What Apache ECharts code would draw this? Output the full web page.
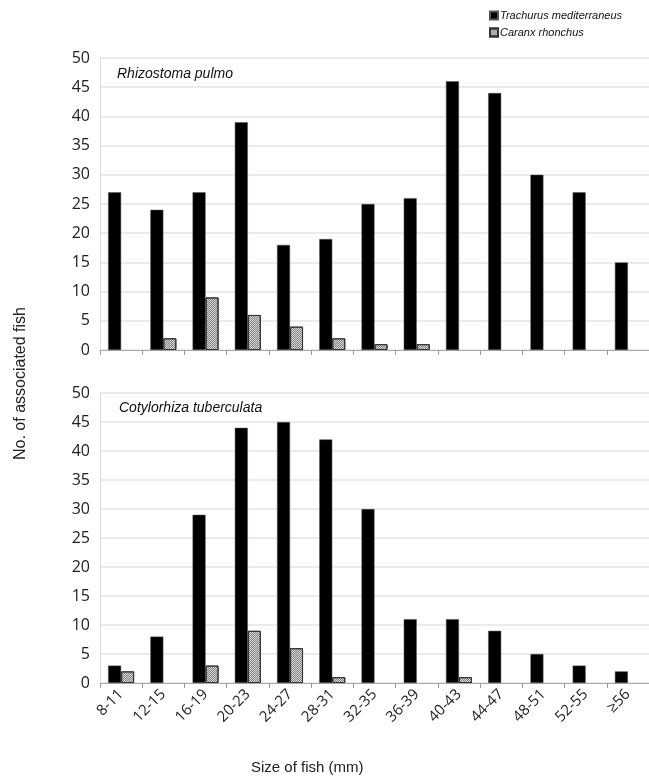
<!DOCTYPE html>
<html>
<head>
<meta charset="utf-8">
<script src="https://cdn.jsdelivr.net/npm/echarts@6/dist/echarts.min.js"></script>
<style>html,body{margin:0;padding:0;background:#fff}#c{width:649px;height:781px}</style>
</head>
<body>
<div id="c"></div>
<script>
const categories = ['8-11','12-15','16-19','20-23','24-27','28-31','32-35','36-39','40-43','44-47','48-51','52-55','≥56'];
const seriesNames = ['Trachurus mediterraneus','Caranx rhonchus'];
const panelTitles = ['Rhizostoma pulmo','Cotylorhiza tuberculata'];
const rhizoTrachurus = [27,24,27,39,18,19,25,26,46,44,30,27,15];
const rhizoCaranx    = [0,2,9,6,4,2,1,1,0,0,0,0,0];
const cotyTrachurus  = [3,8,29,44,45,42,30,11,11,9,5,3,2];
const cotyCaranx     = [2,0,3,9,6,1,0,0,1,0,0,0,0];
const yTicks = [0,5,10,15,20,25,30,35,40,45,50];
const xAxisTitle = 'Size of fish (mm)';
const yAxisTitle = 'No. of associated fish';

const chart = echarts.init(document.getElementById('c'));
const labelFont = '"Open Sans", "Liberation Sans", sans-serif';
const arial = '"Liberation Sans", Arial, sans-serif';
const grids = [
  {left:100, right:0, top:58, height:292},
  {left:100, right:0, top:393, height:290}
];
function xAx(i, showLabels){
  return {
    type:'category', gridIndex:i, data:categories,
    axisLine:{lineStyle:{color:'#aaa',width:1}},
    axisTick:{show:true,length:5,lineStyle:{color:'#999'}},
    axisLabel:{show:showLabels, rotate:45, fontSize:15, color:'#222', fontFamily:labelFont, margin:9}
  };
}
function yAx(i){
  return {
    type:'value', gridIndex:i, min:yTicks[0], max:yTicks[yTicks.length-1], interval:yTicks[1]-yTicks[0],
    axisLine:{show:true, lineStyle:{color:'#ddd'}},
    axisTick:{show:false},
    axisLabel:{fontSize:16, color:'#222', fontFamily:labelFont, margin:10},
    splitLine:{lineStyle:{color:'#e4e4e4',width:1.5}}
  };
}
const blackStyle = {color:'#000', borderColor:'#555', borderWidth:0.5};
const grayStyle = {
  color:'#d8d8d8', borderColor:'#333', borderWidth:1,
  decal:{symbol:'rect', symbolSize:1, color:'rgba(0,0,0,0.4)', dashArrayX:[[1,1],[0,1,1,0]], dashArrayY:[1,0], rotation:0}
};
function bar(name, data, i, style){
  return {
    name:name, type:'bar', xAxisIndex:i, yAxisIndex:i,
    data:data.map(v => v === 0 ? {value:v, itemStyle:{borderWidth:0, opacity:0}} : v),
    barWidth:13, barGap:'0%', itemStyle:style, emphasis:{disabled:true}
  };
}
chart.setOption({
  animation:false,
  aria:{enabled:false},
  grid:grids,
  xAxis:[xAx(0,false), xAx(1,true)],
  yAxis:[yAx(0), yAx(1)],
  legend:{
    orient:'vertical', left:484, top:5, itemWidth:8, itemHeight:8, itemGap:6,
    icon:'rect',
    textStyle:{fontSize:11, fontStyle:'italic', color:'#111', fontFamily:arial, padding:[0,0,0,-3]},
    data:seriesNames
  },
  title:[
    {text:panelTitles[0], left:112, top:62, textStyle:{fontSize:14, fontStyle:'italic', fontWeight:'normal', color:'#111', fontFamily:arial}},
    {text:panelTitles[1], left:114, top:396, textStyle:{fontSize:14, fontStyle:'italic', fontWeight:'normal', color:'#111', fontFamily:arial}}
  ],
  graphic:[
    {type:'text', left:251, top:760, style:{text:xAxisTitle, fill:'#222', font:'15px "Liberation Sans", Arial, sans-serif'}},
    {type:'text', rotation:Math.PI/2, x:13, y:460, style:{text:yAxisTitle, fill:'#222', font:'16px "Liberation Sans", Arial, sans-serif'}}
  ],
  series:[
    bar(seriesNames[0], rhizoTrachurus, 0, blackStyle),
    bar(seriesNames[1], rhizoCaranx, 0, grayStyle),
    bar(seriesNames[0], cotyTrachurus, 1, blackStyle),
    bar(seriesNames[1], cotyCaranx, 1, grayStyle)
  ]
});
</script>
</body>
</html>
